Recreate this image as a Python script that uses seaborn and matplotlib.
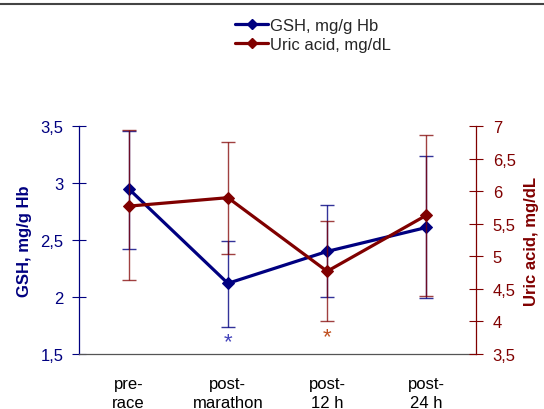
import numpy as np
import pandas as pd
import seaborn as sns
import matplotlib.pyplot as plt
from matplotlib.lines import Line2D
from matplotlib.ticker import FuncFormatter, FixedLocator

sns.set_style('white')
plt.rcParams['font.family'] = ['Liberation Sans', 'DejaVu Sans']

timepoints = ['pre-\nrace', 'post-\nmarathon', 'post-\n12 h', 'post-\n24 h']
gsh_mean = [2.95, 2.12, 2.40, 2.61]
gsh_upper = [3.46, 2.49, 2.81, 3.24]
gsh_lower = [2.42, 1.74, 2.00, 1.99]
uric_mean = [5.77, 5.90, 4.77, 5.63]
uric_upper = [6.94, 6.75, 5.54, 6.86]
uric_lower = [4.64, 5.03, 4.00, 4.39]
gsh_label = 'GSH, mg/g Hb'
uric_label = 'Uric acid, mg/dL'

BLUE = '#000080'
RED = '#800000'
FS = 12

df = pd.DataFrame({'time': timepoints, 'gsh': gsh_mean, 'uric': uric_mean})
xpos = np.arange(len(timepoints))

fig = plt.figure(figsize=(5.44, 4.10), dpi=100)
ax = fig.add_axes([0.1452, 0.1341, 0.7298, 0.5561])
ax2 = ax.twinx()

sns.lineplot(data=df, x='time', y='gsh', ax=ax, color=BLUE, lw=2.3,
             marker='D', markersize=6, markeredgecolor=BLUE, sort=False)
ax.errorbar(xpos, gsh_mean,
            yerr=[np.subtract(gsh_mean, gsh_lower), np.subtract(gsh_upper, gsh_mean)],
            fmt='none', ecolor=BLUE, elinewidth=1, capsize=5, capthick=1, alpha=0.8)

sns.lineplot(data=df, x='time', y='uric', ax=ax2, color=RED, lw=2.3,
             marker='D', markersize=6, markeredgecolor=RED, sort=False)
ax2.errorbar(xpos, uric_mean,
             yerr=[np.subtract(uric_mean, uric_lower), np.subtract(uric_upper, uric_mean)],
             fmt='none', ecolor=RED, elinewidth=1, capsize=5, capthick=1, alpha=0.75)

comma = FuncFormatter(lambda v, p: ('%g' % v).replace('.', ','))

ax.set_xlim(-0.5, 3.5)
ax.set_ylim(1.5, 3.5)
ax.set_yticks(np.arange(1.5, 3.51, 0.5))
ax.yaxis.set_major_formatter(comma)
ax2.set_ylim(3.5, 7)
ax2.set_yticks(np.arange(3.5, 7.01, 0.5))
ax2.yaxis.set_major_formatter(comma)

ax.set_xticks(xpos)
ax.set_xticklabels(timepoints, fontsize=FS, color='black', linespacing=1.35)
ax.xaxis.set_minor_locator(FixedLocator([-0.5, 0.5, 1.5, 2.5, 3.5]))
ax.tick_params(axis='x', which='major', length=0, pad=16)
ax.tick_params(axis='x', which='minor', length=10, direction='inout', color='black', width=0.8)
ax.tick_params(axis='y', length=10, direction='inout', color=BLUE, labelcolor=BLUE,
               labelsize=FS, width=0.8, left=True, pad=6)
ax2.tick_params(axis='y', length=10, direction='inout', color=RED, labelcolor=RED,
                labelsize=FS, width=0.8, right=True, pad=7)

for a in (ax, ax2):
    a.spines['top'].set_visible(False)
    a.set_xlabel('')
ax.spines['right'].set_visible(False)
ax.spines['left'].set_color(BLUE)
ax.spines['bottom'].set_color('#555555')
ax2.spines['left'].set_visible(False)
ax2.spines['bottom'].set_visible(False)
ax2.spines['right'].set_color(RED)
for s in ('left', 'bottom'):
    ax.spines[s].set_linewidth(0.9)
ax2.spines['right'].set_linewidth(0.9)

ax.set_ylabel(gsh_label, color=BLUE, fontsize=FS, fontweight='bold', labelpad=6)
ax2.set_ylabel(uric_label, color=RED, fontsize=FS, fontweight='bold', labelpad=6)

ax.text(1, 1.605, '*', color='#4444bb', fontsize=16, ha='center', va='center')
ax.text(2, 1.65, '*', color='#c05020', fontsize=16, ha='center', va='center')

handles = [Line2D([], [], color=BLUE, lw=2.3, marker='D', markersize=5),
           Line2D([], [], color=RED, lw=2.3, marker='D', markersize=5)]
fig.legend(handles, [gsh_label, uric_label], loc='upper center',
           bbox_to_anchor=(0.575, 0.99), frameon=False, fontsize=FS,
           handlelength=2.0, handletextpad=0.1, labelspacing=0.25)

fig.add_artist(Line2D([0, 1], [0.989, 0.989], color='#444444', lw=1.5))

fig.savefig('out.png', dpi=100)
